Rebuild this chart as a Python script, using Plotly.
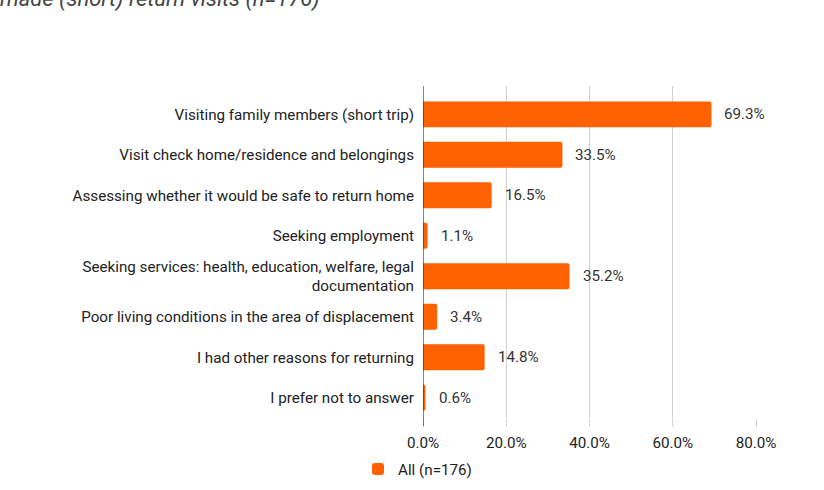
import plotly.graph_objects as go

categories = [
    "Visiting family members (short trip)",
    "Visit check home/residence and belongings",
    "Assessing whether it would be safe to return home",
    "Seeking employment",
    "Seeking services: health, education, welfare, legal<br>documentation",
    "Poor living conditions in the area of displacement",
    "I had other reasons for returning",
    "I prefer not to answer",
]
values = [69.3, 33.5, 16.5, 1.1, 35.2, 3.4, 14.8, 0.6]
series_name = "All (n=176)"
tick_vals = [0, 20, 40, 60, 80]
tick_text = ["0.0%", "20.0%", "40.0%", "60.0%", "80.0%"]
title_text = "made (short) return visits (n=176)"

ORANGE = "#ff6100"
FONT = "Roboto"
FS = 15.2

W, H = 824, 490
L, R, T, B = 423, 68, 86, 72
plot_w = W - L - R
plot_h = H - T - B

fig = go.Figure()
fig.add_trace(go.Bar(
    x=values,
    y=categories,
    orientation="h",
    name=series_name,
    marker=dict(color=ORANGE, cornerradius=2, line=dict(width=0)),
    width=0.64,
    showlegend=True,
))

# value labels just right of each bar
for cat, v in zip(categories, values):
    fig.add_annotation(
        x=v, y=cat, xref="x", yref="y",
        text=f"{v:.1f}%", showarrow=False,
        xanchor="left", xshift=11,
        font=dict(family=FONT, size=FS, color="#333333"),
    )

# title line (sits above the visible page)
fig.add_annotation(
    x=-(L + 2) / plot_w, y=(plot_h + T - 14) / plot_h,
    xref="paper", yref="paper",
    text=title_text, showarrow=False,
    xanchor="left", yanchor="bottom",
    font=dict(family=FONT, size=22, color="#444444", style="italic"),
)

# baseline axis line at 0 extending past the plot bottom
fig.add_shape(
    type="line", xref="x", yref="paper",
    x0=0, x1=0, y0=-8 / plot_h, y1=1,
    line=dict(color="#333333", width=1.2),
)

fig.update_layout(
    width=W, height=H,
    margin=dict(l=L, r=R, t=T, b=B, pad=0, autoexpand=False),
    paper_bgcolor="white", plot_bgcolor="white",
    font=dict(family=FONT, size=FS, color="#222222"),
    bargap=0.36,
    legend=dict(
        orientation="h",
        xref="container", yref="container",
        x=358 / W, xanchor="left",
        y=1 - 469 / H, yanchor="middle",
        font=dict(family=FONT, size=FS, color="#222222"),
        itemclick=False,
    ),
    xaxis=dict(
        range=[0, 80],
        tickvals=tick_vals, ticktext=tick_text,
        showgrid=True, gridcolor="#d0d0d0", gridwidth=1,
        zeroline=False, showline=False,
        ticks="outside", ticklen=8, tickcolor="#d0d0d0",
        ticklabelstandoff=3,
        tickfont=dict(family=FONT, size=FS, color="#222222"),
        fixedrange=True,
    ),
    yaxis=dict(
        range=[7.5, -0.7],
        showgrid=False, zeroline=False, showline=False,
        ticks="", ticklabelstandoff=8,
        tickfont=dict(family=FONT, size=FS, color="#222222"),
        fixedrange=True,
    ),
)

fig.write_html("out.html")
